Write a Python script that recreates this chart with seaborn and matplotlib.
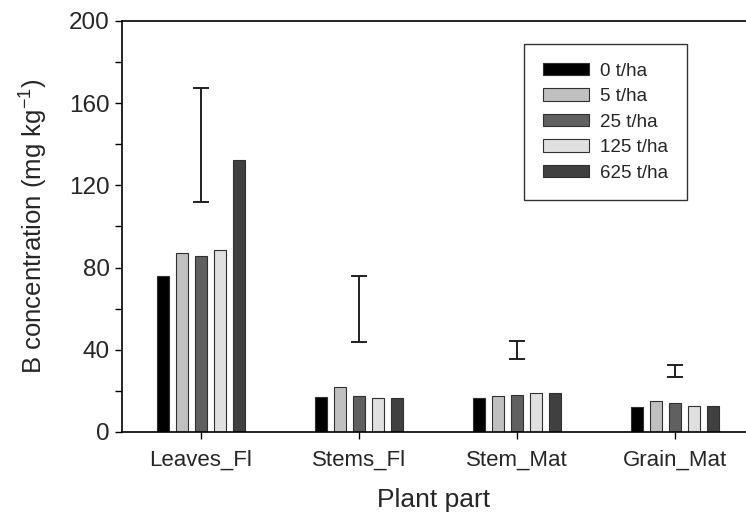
import matplotlib
matplotlib.use("Agg")
import matplotlib.pyplot as plt
from matplotlib.ticker import MultipleLocator
import seaborn as sns
import numpy as np
import pandas as pd

parts = ["Leaves_Fl", "Stems_Fl", "Stem_Mat", "Grain_Mat"]
rates = ["0 t/ha", "5 t/ha", "25 t/ha", "125 t/ha", "625 t/ha"]
conc = {
    "0 t/ha":   [75.7, 17.0, 16.5, 12.1],
    "5 t/ha":   [87.0, 22.0, 17.6, 14.9],
    "25 t/ha":  [85.7, 17.3, 18.0, 14.2],
    "125 t/ha": [88.7, 16.7, 19.1, 12.8],
    "625 t/ha": [132.4, 16.7, 18.8, 12.8],
}
# LSD-style bars drawn above each group
err_low = [111.8, 43.8, 35.3, 27.0]
err_high = [167.5, 75.9, 44.5, 32.7]

colors = ["#000000", "#c0c0c0", "#606060", "#e0e0e0", "#404040"]

df = pd.DataFrame(
    [(p, r, conc[r][i]) for r in rates for i, p in enumerate(parts)],
    columns=["part", "rate", "value"],
)

sns.set_style("ticks")
plt.rcParams["font.family"] = ["Liberation Sans", "DejaVu Sans"]

fig = plt.figure(figsize=(7.46, 5.23), dpi=100)
ax = fig.add_axes([122 / 746, 1 - 432 / 523, 1 - 122 / 746, 411 / 523])

sns.barplot(data=df, x="part", y="value", hue="rate", order=parts, hue_order=rates,
            palette=colors, width=0.6, gap=0.35, edgecolor="#303030", linewidth=0.8,
            saturation=1, ax=ax)

xpos = np.arange(len(parts))
lo = np.array(err_low)
hi = np.array(err_high)
ax.errorbar(xpos, (lo + hi) / 2, yerr=(hi - lo) / 2, fmt="none", ecolor="#202020",
            elinewidth=1.4, capsize=6, capthick=1.4)

ax.set_xlim(-0.5, 3.45)
ax.set_ylim(0, 200)
ax.yaxis.set_major_locator(MultipleLocator(40))
ax.yaxis.set_minor_locator(MultipleLocator(20))
ax.tick_params(axis="both", which="both", direction="out", length=5, width=1, color="black")
ax.tick_params(axis="y", labelsize=17.5, pad=4)
ax.tick_params(axis="x", labelsize=16, pad=8)

for s in ["left", "bottom", "top"]:
    ax.spines[s].set_visible(True)
    ax.spines[s].set_color("black")
    ax.spines[s].set_linewidth(1.2)
ax.spines["right"].set_visible(False)

ax.set_xlabel("Plant part", fontsize=19, labelpad=12)
ax.set_ylabel("B concentration (mg kg$^{\\mathregular{-1}}$)", fontsize=18.5, labelpad=14)

leg = ax.legend(loc="upper right", bbox_to_anchor=(0.905, 0.944), borderaxespad=0,
                fontsize=13.5, frameon=True, fancybox=False, edgecolor="black",
                handlelength=2.45, handleheight=0.64, handletextpad=0.6,
                labelspacing=0.45, borderpad=1.0, title=None)
leg.get_frame().set_linewidth(1.0)

fig.savefig("out.png", dpi=100)
